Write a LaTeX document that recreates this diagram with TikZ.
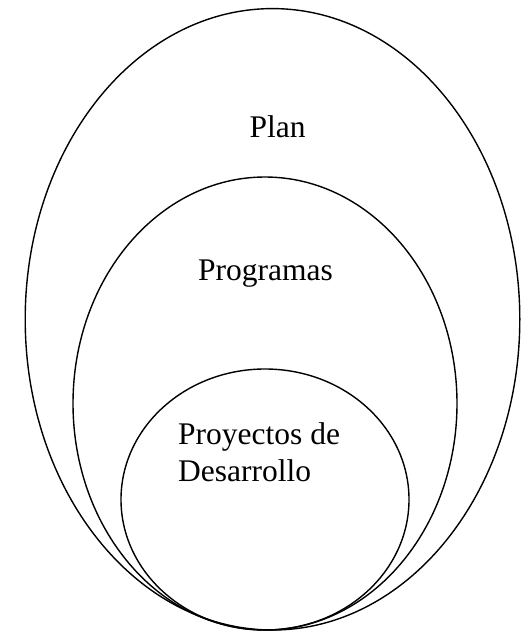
\documentclass[tikz,border=0pt]{standalone}
\usepackage{fontspec}
\setmainfont{Liberation Serif}
\begin{document}
\begin{tikzpicture}[x=1pt,y=-1pt,
  ring/.style={draw=black,line width=1.4pt},
  lbl/.style={inner sep=0pt,font=\fontsize{31.5}{37.7}\selectfont}]
\useasboundingbox (0,0) rectangle (520,632);
\draw[ring] (272.5,319.3) ellipse [x radius=247.3, y radius=310.7];
\draw[ring] (265,403.5) ellipse [x radius=192, y radius=226.5];
\draw[ring] (265,499.5) ellipse [x radius=144, y radius=130.5];
\node[lbl,anchor=base] (plan) at (277.5,137.7) {Plan};
\node[lbl,anchor=base] (prog) at (265.5,280.7) {Programas};
\node[lbl,anchor=base west,align=left] (proy) at (178,481.7) {Proyectos de\\Desarrollo};
\end{tikzpicture}
\end{document}
